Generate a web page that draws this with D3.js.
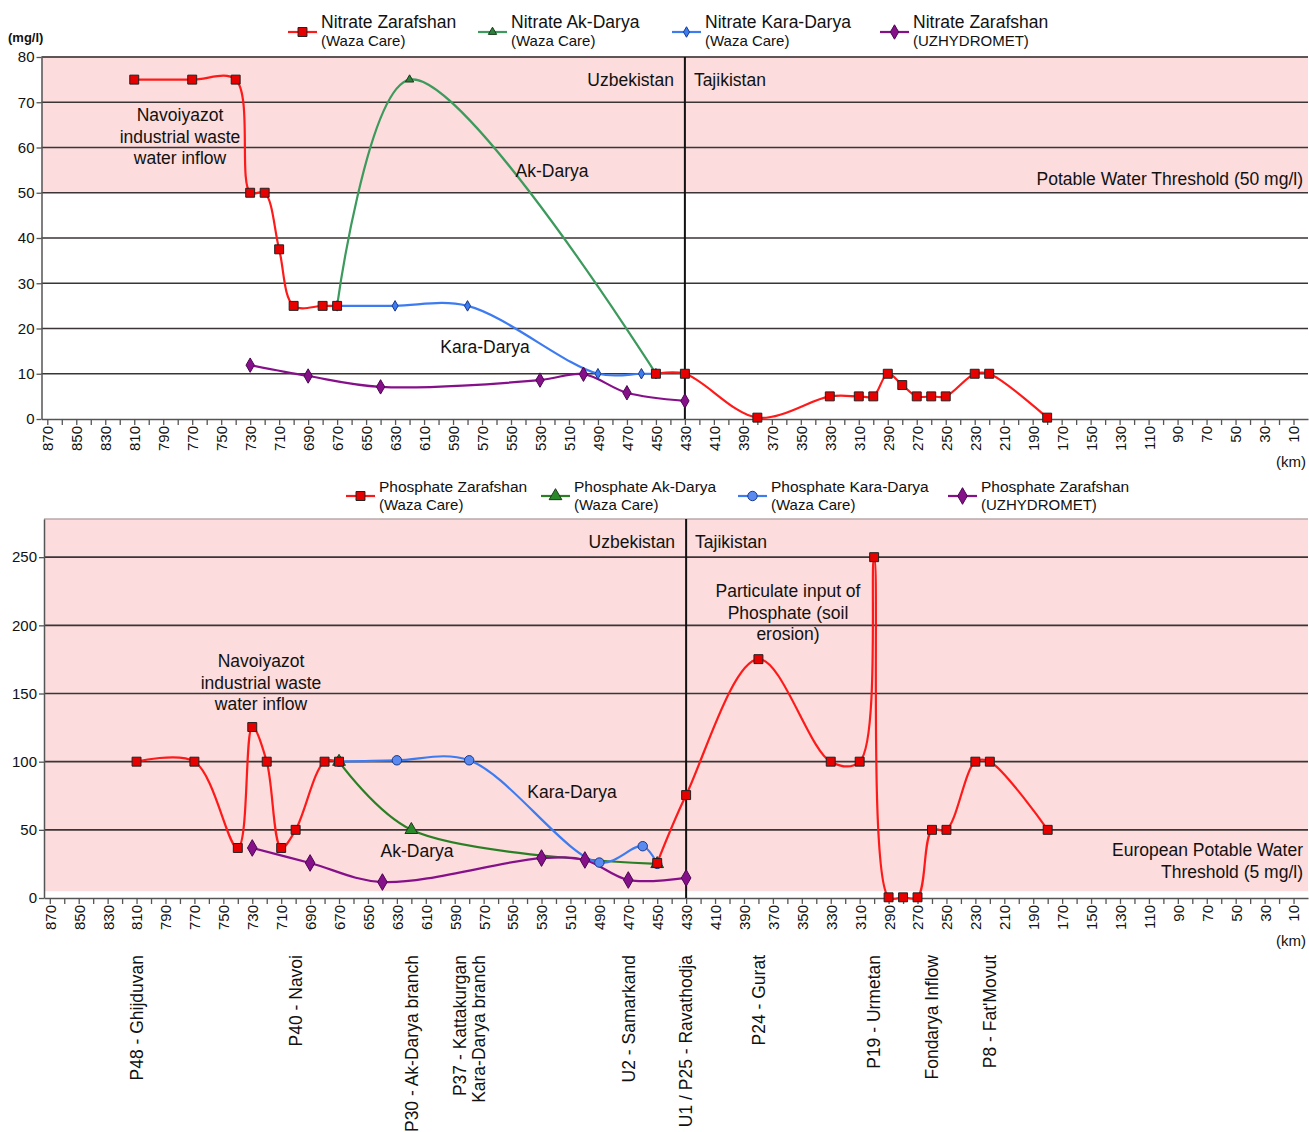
<!DOCTYPE html>
<html><head><meta charset="utf-8">
<script src="https://cdn.jsdelivr.net/npm/d3@7"></script>
<style>
body{margin:0;background:#fff}
text{font-family:"Liberation Sans",Arial,sans-serif;fill:#111}
</style>
</head><body>
<svg id="c" width="1309" height="1132"></svg>
<script>
// ---------------- DATA ----------------
const kmTicks = d3.range(870, 0, -10);          // minor ticks every 10 km, labels every 20
const nitrateTicks = [0,10,20,30,40,50,60,70,80];
const phosphateTicks = [0,50,100,150,200,250];

// [km, value] ; null value = gap in the line
const nitrateZarafshan = [[810,75],[770,75],[740,75],[730,50],[720,50],[710,37.5],[700,25],[680,25],[670,25],[560,null],[450,10],[430,10],[380,0.3],[330,5],[310,5],[300,5],[290,10],[280,7.5],[270,5],[260,5],[250,5],[230,10],[220,10],[180,0.3]];
const nitrateAkDarya = [[670,25],[620,75],[450,10]];
const nitrateKaraDarya = [[670,25],[630,25],[580,25],[490,10],[460,10],[450,10]];
const nitrateUzhydromet = [[730,11.9],[690,9.5],[640,7.1],[530,8.6],[500,9.9],[470,5.8],[430,4.0]];

const phosphateZarafshan = [[810,100],[770,100],[740,36.7],[730,125.4],[720,100],[710,36.7],[700,50],[680,100],[670,100],[560,null],[450,25.7],[430,75.5],[380,175.2],[330,100],[310,100],[300,250],[290,0.5],[280,0.5],[270,0.5],[260,50],[250,50],[230,100],[220,100],[180,50]];
const phosphateAkDarya = [[670,100],[620,50],[450,25]];
const phosphateKaraDarya = [[670,100],[630,101],[580,101],[490,26],[460,38],[450,25]];
const phosphateUzhydromet = [[730,36.7],[690,25.7],[640,11.7],[530,29.3],[500,27.9],[470,13.2],[430,14.7]];

const stations = [
  {km:810, lines:["P48 - Ghijduvan"]},
  {km:700, lines:["P40 - Navoi"]},
  {km:620, lines:["P30 - Ak-Darya branch"]},
  {km:580, lines:["P37 - Kattakurgan","Kara-Darya branch"]},
  {km:470, lines:["U2 - Samarkand"]},
  {km:430, lines:["U1 / P25 - Ravathodja"]},
  {km:380, lines:["P24 - Gurat"]},
  {km:300, lines:["P19 - Urmetan"]},
  {km:260, lines:["Fondarya Inflow"]},
  {km:220, lines:["P8 - Fat'Movut"]}
];
const borderKm = 430;

// ---------------- STYLE ----------------
const COL = {red:"#ff1a1a", green:"#3c9a5c", green2:"#2a7f24", blue:"#3d7bf0", purple:"#86108a"};
const svg = d3.select("#c");

function drawPanel(cfg){
  const g = svg.append("g");
  const x = d3.scaleLinear().domain([874,0]).range([cfg.left,cfg.right]);
  const y = d3.scaleLinear().domain([0,cfg.yMax]).range([cfg.bottom,cfg.top]);

  g.append("rect").attr("x",cfg.left).attr("y",cfg.top)
    .attr("width",cfg.right-cfg.left).attr("height",y(cfg.threshold)-cfg.top)
    .attr("fill","#fcdcdc");
  g.append("line").attr("x1",cfg.left).attr("x2",cfg.right).attr("y1",cfg.top).attr("y2",cfg.top)
    .attr("stroke","#b9a9a9").attr("stroke-width",1.5);
  g.selectAll(".grid").data(cfg.ticks.filter(t=>t>0)).join("line")
    .attr("x1",cfg.left).attr("x2",cfg.right)
    .attr("y1",d=>y(d)).attr("y2",d=>y(d))
    .attr("stroke","#3b3535").attr("stroke-width",1.7);

  const ya = g.append("g").attr("transform",`translate(${cfg.left},0)`)
    .call(d3.axisLeft(y).tickValues(cfg.ticks).tickSize(5).tickPadding(2).tickSizeOuter(0));
  ya.select(".domain").attr("stroke","#555").attr("stroke-width",1.5);
  ya.selectAll(".tick line").attr("stroke","#555").attr("stroke-width",1.3);
  ya.selectAll("text").style("font-size","15px").attr("fill","#111");

  const xa = g.append("g").attr("transform",`translate(0,${cfg.bottom})`)
    .call(d3.axisBottom(x).tickValues(kmTicks).tickSize(6).tickSizeOuter(0)
      .tickFormat(d => d % 20 === 10 ? d : ""));
  xa.select(".domain").attr("stroke","#555").attr("stroke-width",1.5);
  xa.selectAll(".tick line").attr("stroke","#555").attr("stroke-width",1.3);
  xa.selectAll("text").attr("transform","rotate(-90)").attr("text-anchor","end")
    .attr("x",-7).attr("y",0).attr("dy","0.36em").style("font-size","15px").attr("fill","#111");
  g.append("text").attr("x",1306).attr("y",cfg.bottom+48).attr("text-anchor","end")
    .style("font-size","15px").text("(km)");

  g.append("line").attr("x1",x(borderKm)).attr("x2",x(borderKm))
    .attr("y1",cfg.top).attr("y2",cfg.bottom).attr("stroke","#111").attr("stroke-width",2);
  g.append("text").attr("x",x(borderKm)-11).attr("y",cfg.top+29).attr("text-anchor","end")
    .style("font-size","17.5px").text("Uzbekistan");
  g.append("text").attr("x",x(borderKm)+9).attr("y",cfg.top+29).attr("text-anchor","start")
    .style("font-size","17.5px").text("Tajikistan");

  const line = d3.line().defined(d=>d[1]!=null).x(d=>x(d[0])).y(d=>y(d[1]))
    .curve(d3.curveCatmullRom.alpha(0.5));
  cfg.series.forEach(s=>{
    g.append("path").datum(s.data).attr("d",line).attr("fill","none")
      .attr("stroke",s.color).attr("stroke-width",2.2);
  });
  cfg.series.slice().reverse().forEach(s=>{
    g.selectAll(null).data(s.data.filter(d=>d[1]!=null)).join("path")
      .attr("transform",d=>`translate(${x(d[0])},${y(d[1])})`)
      .attr("d",d3.symbol().type(s.symbol).size(s.size))
      .attr("fill",s.fill).attr("stroke",s.stroke).attr("stroke-width",1);
  });

  cfg.notes.forEach(n=>{
    const t = g.append("text").attr("x",n.x).attr("y",n.y).attr("text-anchor",n.anchor)
      .style("font-size","17.5px");
    n.lines.forEach((l,i)=>t.append("tspan").attr("x",n.x).attr("dy",i?21.5:0).text(l));
  });

  cfg.series.forEach((s,i)=>{
    const L = cfg.legend[i];
    g.append("line").attr("x1",L.x).attr("x2",L.x+29).attr("y1",cfg.legendY).attr("y2",cfg.legendY)
      .attr("stroke",s.color).attr("stroke-width",2.2);
    g.append("path").attr("transform",`translate(${L.x+14.5},${cfg.legendY})`)
      .attr("d",d3.symbol().type(s.symbol).size(s.size)).attr("fill",s.fill)
      .attr("stroke",s.stroke).attr("stroke-width",1);
    g.append("text").attr("x",L.x+33).attr("y",cfg.legendY-4).style("font-size",cfg.legendFont+"px").text(s.name);
    g.append("text").attr("x",L.x+33).attr("y",cfg.legendY+14).style("font-size",cfg.subFont+"px").text(s.sub);
  });
  return {x,y,g};
}

// ---------------- TOP: NITRATE ----------------
drawPanel({
  left:41.5, right:1308, top:57, bottom:419, yMax:80, threshold:50, ticks:nitrateTicks,
  legendY:32, legendFont:17.5, subFont:15,
  legend:[{x:288},{x:478},{x:672},{x:880}],
  series:[
    {name:"Nitrate Zarafshan", sub:"(Waza Care)", data:nitrateZarafshan, color:COL.red, symbol:d3.symbolSquare, size:80, fill:"#e60000", stroke:"#222"},
    {name:"Nitrate Ak-Darya", sub:"(Waza Care)", data:nitrateAkDarya, color:COL.green, symbol:d3.symbolTriangle, size:30, fill:"#2f7f3f", stroke:"#1c3a1c"},
    {name:"Nitrate Kara-Darya", sub:"(Waza Care)", data:nitrateKaraDarya, color:COL.blue, symbol:d3.symbolDiamond, size:32, fill:"#3d7bf0", stroke:"#1a3a8a"},
    {name:"Nitrate Zarafshan", sub:"(UZHYDROMET)", data:nitrateUzhydromet, color:COL.purple, symbol:d3.symbolDiamond, size:60, fill:"#86108a", stroke:"#4a0650"}
  ],
  notes:[
    {x:180, y:121, anchor:"middle", lines:["Navoiyazot","industrial waste","water inflow"]},
    {x:552, y:177, anchor:"middle", lines:["Ak-Darya"]},
    {x:485, y:353, anchor:"middle", lines:["Kara-Darya"]},
    {x:1303, y:185, anchor:"end", lines:["Potable Water Threshold (50 mg/l)"]}
  ]
});
svg.append("text").attr("x",8).attr("y",42).style("font-size","13px").style("font-weight","bold").text("(mg/l)");

// ---------------- BOTTOM: PHOSPHATE ----------------
const bottom = drawPanel({
  left:44, right:1308, top:519, bottom:898, yMax:278, threshold:5, ticks:phosphateTicks,
  legendY:496, legendFont:15.5, subFont:15,
  legend:[{x:346},{x:541},{x:738},{x:948}],
  series:[
    {name:"Phosphate Zarafshan", sub:"(Waza Care)", data:phosphateZarafshan, color:COL.red, symbol:d3.symbolSquare, size:80, fill:"#e60000", stroke:"#222"},
    {name:"Phosphate Ak-Darya", sub:"(Waza Care)", data:phosphateAkDarya, color:COL.green2, symbol:d3.symbolTriangle, size:70, fill:"#2a8a2a", stroke:"#1c3a1c"},
    {name:"Phosphate Kara-Darya", sub:"(Waza Care)", data:phosphateKaraDarya, color:COL.blue, symbol:d3.symbolCircle, size:70, fill:"#5a8af0", stroke:"#1a3a8a"},
    {name:"Phosphate Zarafshan", sub:"(UZHYDROMET)", data:phosphateUzhydromet, color:COL.purple, symbol:d3.symbolDiamond, size:80, fill:"#86108a", stroke:"#4a0650"}
  ],
  notes:[
    {x:261, y:667, anchor:"middle", lines:["Navoiyazot","industrial waste","water inflow"]},
    {x:788, y:597, anchor:"middle", lines:["Particulate input of","Phosphate (soil","erosion)"]},
    {x:572, y:798, anchor:"middle", lines:["Kara-Darya"]},
    {x:417, y:857, anchor:"middle", lines:["Ak-Darya"]},
    {x:1303, y:856, anchor:"end", lines:["European Potable Water","Threshold (5 mg/l)"]}
  ]
});

stations.forEach(s=>{
  const n = s.lines.length;
  s.lines.forEach((l,i)=>{
    const cx = bottom.x(s.km) + (i-(n-1)/2)*19;
    svg.append("text").attr("transform",`translate(${cx},955) rotate(-90)`)
      .attr("text-anchor","end").attr("dy","0.36em").style("font-size","17.5px").text(l);
  });
});
</script>
</body></html>
